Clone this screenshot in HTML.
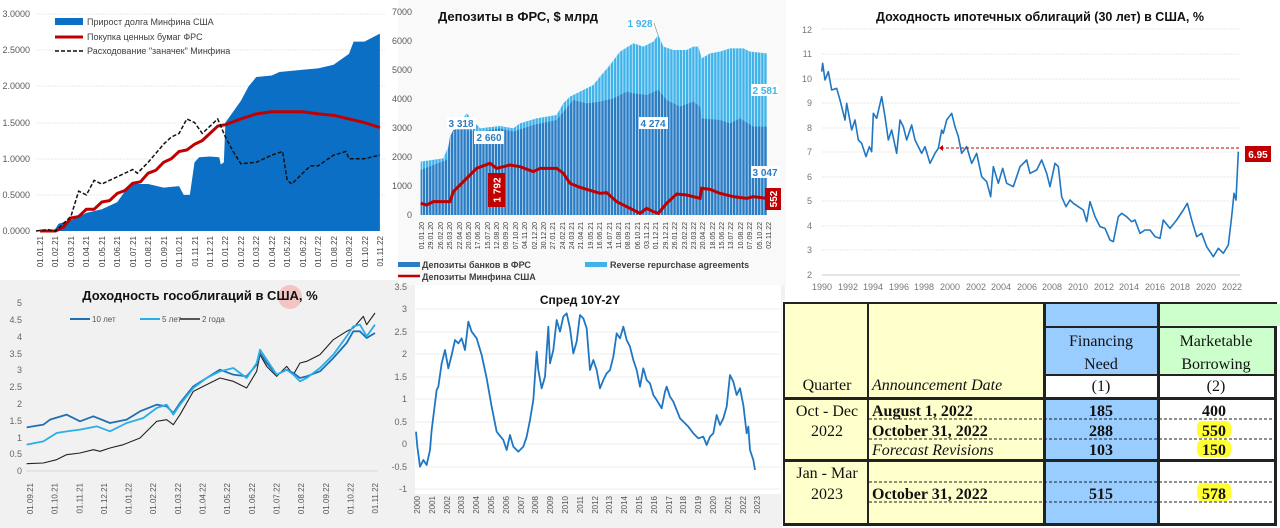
<!DOCTYPE html>
<html><head><meta charset="utf-8"><style>
html,body{margin:0;padding:0;background:#fff;}
svg{display:block;font-family:"Liberation Sans","DejaVu Sans",sans-serif;}
.t{font-family:"Liberation Serif",serif;}
</style></head><body>
<svg width="1280" height="528" viewBox="0 0 1280 528" xmlns="http://www.w3.org/2000/svg">
<defs>
<pattern id="st" patternUnits="userSpaceOnUse" width="9.4" height="10"><rect x="0" y="0" width="2.4" height="10" fill="#fff" opacity="0.75"/></pattern>
<clipPath id="totclip"><path d="M62,485 L130,475 L145,440 L150,410 L160,395 L200,340 L240,385 L300,378 L340,385 L360,370 L410,355 L470,345 L490,310 L510,290 L540,275 L580,255 L600,230 L630,195 L660,155 L700,130 L730,140 L760,125 L775,105 L790,140 L820,150 L860,150 L880,140 L895,140 L905,175 L930,160 L960,155 L990,145 L1030,145 L1050,155 L1100,160 L1100,645 L62,645 Z"/></clipPath>
</defs>
<rect width="1280" height="528" fill="#fff"/>
<rect x="0" y="280" width="392" height="248" fill="#f1f1f1"/>
<rect x="390" y="280" width="395" height="248" fill="#f1f1f1"/>
<rect x="415" y="284" width="366" height="210" fill="#fff"/>
<rect x="398" y="0" width="388" height="285" fill="#f9f9f9"/>

<!-- ===== Panel 1 ===== -->
<g font-size="9" fill="#595959" text-anchor="end">
<text x="30" y="17">3.0000</text><text x="30" y="53">2.5000</text><text x="30" y="89">2.0000</text><text x="30" y="126">1.5000</text><text x="30" y="162">1.0000</text><text x="30" y="198">0.5000</text><text x="30" y="234">0.0000</text>
</g>
<g stroke="#e4e4e4" stroke-width="0.8" stroke-dasharray="2,1">
<line x1="36" y1="14" x2="385" y2="14"/><line x1="36" y1="50" x2="385" y2="50"/><line x1="36" y1="86" x2="385" y2="86"/><line x1="36" y1="123" x2="385" y2="123"/><line x1="36" y1="159" x2="385" y2="159"/><line x1="36" y1="195" x2="385" y2="195"/>
</g>
<g transform="translate(40,231) scale(15.45,-72.3)">
<path fill="#0b6fc6" d="M0.9,0 L1.2,0.1 L2,0.15 L3,0.25 L4,0.3 L5,0.4 L5.5,0.55 L6,0.65 L7,0.65 L8,0.6 L9,0.62 L9.3,0.5 L9.7,0.5 L10,0.95 L10.3,1.02 L11,1.03 L11.6,1.02 L11.7,0.92 L11.9,0.95 L12,1.5 L12.5,1.65 L13,1.8 L13.5,2.0 L14,2.13 L15,2.15 L15.5,2.2 L17,2.23 L18,2.25 L19,2.3 L20,2.45 L20.3,2.62 L21,2.62 L22,2.73 L22,0 Z"/>
<polyline fill="none" stroke="#c00000" stroke-width="3" vector-effect="non-scaling-stroke" points="0,0 1,0 1.5,0.05 2,0.18 2.5,0.2 3,0.3 3.5,0.3 4,0.4 4.5,0.42 5,0.52 5.5,0.56 6,0.66 6.5,0.68 7,0.8 7.5,0.84 8,0.95 8.5,1.0 9,1.1 9.5,1.12 10,1.2 10.5,1.25 11,1.35 11.5,1.45 12,1.47 13,1.55 14,1.62 15,1.65 16,1.65 17,1.65 18,1.62 19,1.6 20,1.55 21,1.5 22,1.43"/>
</g>
<polyline fill="none" stroke="#111" stroke-width="1.5" stroke-dasharray="4,2" points="36,231 47.7,229.6 55.5,231 70.9,216.5 78.6,191.2 86.4,194.9 94.1,180.4 101.8,184 117.3,176.8 132.7,169.5 137.4,173.2 148.2,162.3 163.6,144.2 171.3,137 179.1,133.4 186.8,119 194.5,122.5 202.3,133.4 210,126.2 217.7,119 225.4,137 233.1,151.5 240.9,163.8 256.3,162.3 271.8,155.1 282.6,151.5 287.2,180.4 291.9,184 302.7,173.2 310.4,165.9 318.1,165.9 333.6,155.1 345.9,151.5 349,158.7 364.5,158.7 379.9,155.1"/>
<rect x="55" y="18" width="28" height="7" fill="#0b6fc6"/>
<line x1="55" y1="37" x2="83" y2="37" stroke="#c00000" stroke-width="3"/>
<line x1="55" y1="51" x2="83" y2="51" stroke="#111" stroke-width="1.5" stroke-dasharray="4,2"/>
<g font-size="9" fill="#404040"><text x="87" y="25">Прирост долга Минфина США</text><text x="87" y="40">Покупка ценных бумаг ФРС</text><text x="87" y="54">Расходование "заначек" Минфина</text></g>
<g font-size="8" fill="#404040" text-anchor="end">
<text transform="translate(43,236) rotate(-90)">01.01.21</text><text transform="translate(58,236) rotate(-90)">01.02.21</text><text transform="translate(74,236) rotate(-90)">01.03.21</text><text transform="translate(89,236) rotate(-90)">01.04.21</text><text transform="translate(105,236) rotate(-90)">01.05.21</text><text transform="translate(120,236) rotate(-90)">01.06.21</text><text transform="translate(136,236) rotate(-90)">01.07.21</text><text transform="translate(151,236) rotate(-90)">01.08.21</text><text transform="translate(167,236) rotate(-90)">01.09.21</text><text transform="translate(182,236) rotate(-90)">01.10.21</text><text transform="translate(198,236) rotate(-90)">01.11.21</text><text transform="translate(213,236) rotate(-90)">01.12.21</text><text transform="translate(228,236) rotate(-90)">01.01.22</text><text transform="translate(244,236) rotate(-90)">01.02.22</text><text transform="translate(259,236) rotate(-90)">01.03.22</text><text transform="translate(275,236) rotate(-90)">01.04.22</text><text transform="translate(290,236) rotate(-90)">01.05.22</text><text transform="translate(306,236) rotate(-90)">01.06.22</text><text transform="translate(321,236) rotate(-90)">01.07.22</text><text transform="translate(337,236) rotate(-90)">01.08.22</text><text transform="translate(352,236) rotate(-90)">01.09.22</text><text transform="translate(368,236) rotate(-90)">01.10.22</text><text transform="translate(383,236) rotate(-90)">01.11.22</text>
</g>

<!-- ===== Panel 2 ===== -->
<g font-size="9" fill="#595959" text-anchor="end">
<text x="412" y="15">7000</text><text x="412" y="44">6000</text><text x="412" y="73">5000</text><text x="412" y="102">4000</text><text x="412" y="131">3000</text><text x="412" y="160">2000</text><text x="412" y="189">1000</text><text x="412" y="218">0</text>
</g>
<g transform="translate(400,0) scale(0.33333)">
<path fill="#3fb3ea" d="M62,485 L130,475 L145,440 L150,410 L160,395 L200,340 L240,385 L300,378 L340,385 L360,370 L410,355 L470,345 L490,310 L510,290 L540,275 L580,255 L600,230 L630,195 L660,155 L700,130 L730,140 L760,125 L775,105 L790,140 L820,150 L860,150 L880,140 L895,140 L905,175 L930,160 L960,155 L990,145 L1030,145 L1050,155 L1100,160 L1100,645 L62,645 Z"/>
<path fill="#2a7cc4" d="M62,510 L140,480 L150,410 L160,390 L200,390 L240,395 L300,385 L340,395 L400,375 L470,360 L495,330 L520,300 L560,310 L600,305 L640,295 L680,275 L700,280 L740,285 L775,270 L800,300 L840,320 L880,305 L900,320 L905,355 L960,360 L990,370 L1020,355 L1060,380 L1100,380 L1100,645 L62,645 Z"/>
<rect x="62" y="90" width="1040" height="560" fill="url(#st)" clip-path="url(#totclip)"/>
<polyline fill="none" stroke="#c00000" stroke-width="3" vector-effect="non-scaling-stroke" points="62,610 80,615 100,605 150,605 160,575 190,545 230,505 270,490 290,505 330,495 360,500 400,515 420,505 470,505 490,520 510,550 540,562 600,580 620,578 650,605 690,625 720,640 740,625 760,635 775,640 800,610 830,582 860,585 900,595 905,565 930,568 960,580 1000,590 1040,595 1060,590 1100,595"/>
</g>
<text x="438" y="21" font-size="13" font-weight="bold" fill="#111">Депозиты в ФРС, $ млрд</text>
<g font-size="10" font-weight="bold" text-anchor="middle">
<rect x="626" y="18" width="28" height="11" fill="#fff"/><text x="640" y="27" fill="#3fb3ea">1 928</text>
<line x1="654" y1="23" x2="658" y2="35" stroke="#888" stroke-width="0.6"/>
<rect x="447" y="117" width="29" height="12" fill="#fff"/><text x="461" y="127" fill="#2a7cc4">3 318</text>
<rect x="474" y="131" width="30" height="13" fill="#fff"/><text x="489" y="141" fill="#2a7cc4">2 660</text>
<rect x="639" y="117" width="29" height="12" fill="#fff"/><text x="653" y="127" fill="#2a7cc4">4 274</text>
<rect x="751" y="84" width="28" height="12" fill="#fff"/><text x="765" y="94" fill="#3fb3ea">2 581</text>
<rect x="751" y="166" width="28" height="12" fill="#fff"/><text x="765" y="176" fill="#2a7cc4">3 047</text>
<rect x="488" y="173" width="17" height="34" fill="#c00000"/><text transform="translate(500.5,190) rotate(-90)" fill="#fff">1 792</text>
<rect x="765" y="188" width="16" height="22" fill="#c00000"/><text transform="translate(777,199) rotate(-90)" fill="#fff">552</text>
</g>
<g font-size="7" fill="#404040" text-anchor="end">
<text transform="translate(424,222) rotate(-90)">01.01.20</text><text transform="translate(433,222) rotate(-90)">29.01.20</text><text transform="translate(443,222) rotate(-90)">26.02.20</text><text transform="translate(452,222) rotate(-90)">25.03.20</text><text transform="translate(462,222) rotate(-90)">22.04.20</text><text transform="translate(471,222) rotate(-90)">20.05.20</text><text transform="translate(480,222) rotate(-90)">17.06.20</text><text transform="translate(490,222) rotate(-90)">15.07.20</text><text transform="translate(499,222) rotate(-90)">12.08.20</text><text transform="translate(508,222) rotate(-90)">09.09.20</text><text transform="translate(518,222) rotate(-90)">07.10.20</text><text transform="translate(527,222) rotate(-90)">04.11.20</text><text transform="translate(537,222) rotate(-90)">02.12.20</text><text transform="translate(546,222) rotate(-90)">30.12.20</text><text transform="translate(555,222) rotate(-90)">27.01.21</text><text transform="translate(565,222) rotate(-90)">24.02.21</text><text transform="translate(574,222) rotate(-90)">24.03.21</text><text transform="translate(583,222) rotate(-90)">21.04.21</text><text transform="translate(593,222) rotate(-90)">19.05.21</text><text transform="translate(602,222) rotate(-90)">16.06.21</text><text transform="translate(612,222) rotate(-90)">14.07.21</text><text transform="translate(621,222) rotate(-90)">11.08.21</text><text transform="translate(630,222) rotate(-90)">08.09.21</text><text transform="translate(640,222) rotate(-90)">06.10.21</text><text transform="translate(649,222) rotate(-90)">03.11.21</text><text transform="translate(658,222) rotate(-90)">01.12.21</text><text transform="translate(668,222) rotate(-90)">29.12.21</text><text transform="translate(677,222) rotate(-90)">26.01.22</text><text transform="translate(687,222) rotate(-90)">23.02.22</text><text transform="translate(696,222) rotate(-90)">23.03.22</text><text transform="translate(705,222) rotate(-90)">20.04.22</text><text transform="translate(715,222) rotate(-90)">18.05.22</text><text transform="translate(724,222) rotate(-90)">15.06.22</text><text transform="translate(733,222) rotate(-90)">13.07.22</text><text transform="translate(743,222) rotate(-90)">10.08.22</text><text transform="translate(752,222) rotate(-90)">07.09.22</text><text transform="translate(762,222) rotate(-90)">05.10.22</text><text transform="translate(771,222) rotate(-90)">02.11.22</text>
</g>
<rect x="398" y="262" width="22" height="5" fill="#2a7cc4"/>
<text x="422" y="268" font-size="9" font-weight="bold" fill="#404040">Депозиты банков в ФРС</text>
<rect x="585" y="262" width="22" height="5" fill="#3fb3ea"/>
<text x="610" y="268" font-size="9" font-weight="bold" fill="#404040">Reverse repurchase agreements</text>
<line x1="398" y1="276" x2="420" y2="276" stroke="#c00000" stroke-width="2.5"/>
<text x="422" y="280" font-size="9" font-weight="bold" fill="#404040">Депозиты Минфина США</text>

<!-- ===== Panel 3 ===== -->
<text x="1040" y="21" font-size="12.5" font-weight="bold" fill="#111" text-anchor="middle">Доходность ипотечных облигаций (30 лет) в США, %</text>
<g stroke="#e2e2e2" stroke-width="0.8" stroke-dasharray="2,1">
<line x1="822" y1="29" x2="1240" y2="29"/><line x1="822" y1="54" x2="1240" y2="54"/><line x1="822" y1="79" x2="1240" y2="79"/><line x1="822" y1="103" x2="1240" y2="103"/><line x1="822" y1="128" x2="1240" y2="128"/><line x1="822" y1="152" x2="1240" y2="152"/><line x1="822" y1="177" x2="1240" y2="177"/><line x1="822" y1="201" x2="1240" y2="201"/><line x1="822" y1="226" x2="1240" y2="226"/><line x1="822" y1="250" x2="1240" y2="250"/>
</g>
<line x1="822" y1="275" x2="1240" y2="275" stroke="#bbb" stroke-width="0.8"/>
<g font-size="9" fill="#777" text-anchor="end">
<text x="812" y="33">12</text><text x="812" y="57">11</text><text x="812" y="82">10</text><text x="812" y="106">9</text><text x="812" y="131">8</text><text x="812" y="155">7</text><text x="812" y="180">6</text><text x="812" y="204">5</text><text x="812" y="229">4</text><text x="812" y="253">3</text><text x="812" y="278">2</text>
</g>
<g font-size="9" fill="#777" text-anchor="middle">
<text x="822" y="290">1990</text><text x="848" y="290">1992</text><text x="873" y="290">1994</text><text x="899" y="290">1996</text><text x="924" y="290">1998</text><text x="950" y="290">2000</text><text x="976" y="290">2002</text><text x="1001" y="290">2004</text><text x="1027" y="290">2006</text><text x="1052" y="290">2008</text><text x="1078" y="290">2010</text><text x="1104" y="290">2012</text><text x="1129" y="290">2014</text><text x="1155" y="290">2016</text><text x="1180" y="290">2018</text><text x="1206" y="290">2020</text><text x="1232" y="290">2022</text>
</g>
<g transform="translate(780,0) scale(0.33333)">
<polyline fill="none" stroke="#1f77c4" stroke-width="1.6" vector-effect="non-scaling-stroke" stroke-linejoin="round" points="125,215 128,190 135,240 145,215 155,270 170,265 180,300 195,360 200,310 215,390 225,360 235,420 245,430 258,470 268,440 275,455 280,340 290,355 305,290 315,350 325,420 335,390 350,460 360,360 370,380 380,420 395,375 405,420 425,460 435,440 450,490 465,460 475,445 485,390 490,400 500,360 515,340 525,380 535,410 545,460 560,440 575,490 590,460 605,530 620,545 632,590 640,500 655,550 668,505 680,550 700,560 720,500 740,480 750,520 770,510 785,480 800,520 810,560 825,490 835,500 845,590 858,620 870,600 880,610 895,620 910,630 920,665 930,605 945,650 960,680 975,685 990,720 1000,725 1015,650 1025,640 1040,650 1055,665 1065,660 1080,700 1095,690 1110,690 1125,710 1140,715 1150,660 1170,685 1190,660 1210,630 1222,610 1235,660 1250,710 1265,700 1280,740 1300,770 1315,745 1330,760 1345,735 1355,650 1362,580 1368,600 1375,455"/>
</g>
<line x1="941" y1="148" x2="1240" y2="148" stroke="#c00000" stroke-width="1" stroke-dasharray="3,2"/>
<path d="M939,148 l4,-3 v6 z" fill="#c00000"/>
<rect x="1245" y="146" width="26" height="16" fill="#c00000"/>
<text x="1258" y="158" font-size="10" font-weight="bold" fill="#fff" text-anchor="middle">6.95</text>

<!-- ===== Panel 4 ===== -->
<circle cx="290" cy="297" r="12" fill="#f2c4c4"/>
<text x="200" y="300" font-size="13" font-weight="bold" fill="#111" text-anchor="middle">Доходность гособлигаций в США, %</text>
<g font-size="9" fill="#666" text-anchor="end">
<text x="22" y="306">5</text><text x="22" y="323">4.5</text><text x="22" y="340">4</text><text x="22" y="357">3.5</text><text x="22" y="373">3</text><text x="22" y="390">2.5</text><text x="22" y="407">2</text><text x="22" y="424">1.5</text><text x="22" y="441">1</text><text x="22" y="457">0.5</text><text x="22" y="474">0</text>
</g>
<line x1="26" y1="471" x2="378" y2="471" stroke="#ccc" stroke-width="0.8"/>
<line x1="70" y1="319" x2="90" y2="319" stroke="#1f6fb5" stroke-width="2"/><text x="92" y="322" font-size="8" fill="#555">10 лет</text>
<line x1="140" y1="319" x2="160" y2="319" stroke="#29aee6" stroke-width="2"/><text x="162" y="322" font-size="8" fill="#555">5 лет</text>
<line x1="180" y1="319" x2="200" y2="319" stroke="#222" stroke-width="1.5"/><text x="202" y="322" font-size="8" fill="#555">2 года</text>
<g transform="translate(0,278) scale(0.33333)" fill="none" stroke-linejoin="round">
<polyline stroke="#222" stroke-width="1.1" vector-effect="non-scaling-stroke" points="80,557 130,555 170,545 200,530 240,525 280,515 300,520 330,510 370,500 420,480 470,430 500,425 520,440 540,410 580,340 620,320 660,300 700,310 740,330 770,280 780,230 800,265 830,295 860,265 880,290 900,255 920,250 960,230 1000,185 1040,160 1060,150 1090,115 1100,140 1125,105"/>
<polyline stroke="#1f6fb5" stroke-width="1.8" vector-effect="non-scaling-stroke" points="80,448 130,440 150,425 200,410 240,430 280,415 330,435 380,425 420,400 470,380 500,385 520,405 540,375 580,325 620,300 660,275 700,290 740,295 770,260 780,225 800,255 830,290 860,275 880,285 900,300 920,295 960,280 1000,240 1040,195 1060,160 1080,160 1100,180 1125,165"/>
<polyline stroke="#29aee6" stroke-width="1.8" vector-effect="non-scaling-stroke" points="80,500 130,490 170,465 200,460 240,455 290,445 330,460 380,435 430,420 470,390 500,380 520,410 540,380 580,330 620,300 660,280 700,270 740,300 770,255 780,215 800,245 830,290 860,275 880,290 900,310 920,300 960,270 1000,230 1040,175 1060,145 1080,140 1100,175 1125,140"/>
</g>
<g font-size="8" fill="#555" text-anchor="end">
<text transform="translate(33,483) rotate(-90)">01.09.21</text><text transform="translate(57.6,483) rotate(-90)">01.10.21</text><text transform="translate(82.3,483) rotate(-90)">01.11.21</text><text transform="translate(107,483) rotate(-90)">01.12.21</text><text transform="translate(131.6,483) rotate(-90)">01.01.22</text><text transform="translate(156,483) rotate(-90)">01.02.22</text><text transform="translate(181,483) rotate(-90)">01.03.22</text><text transform="translate(205.5,483) rotate(-90)">01.04.22</text><text transform="translate(230,483) rotate(-90)">01.05.22</text><text transform="translate(255,483) rotate(-90)">01.06.22</text><text transform="translate(279.5,483) rotate(-90)">01.07.22</text><text transform="translate(304,483) rotate(-90)">01.08.22</text><text transform="translate(329,483) rotate(-90)">01.09.22</text><text transform="translate(353.5,483) rotate(-90)">01.10.22</text><text transform="translate(378,483) rotate(-90)">01.11.22</text>
</g>

<!-- ===== Panel 5 ===== -->
<g stroke="#e6e6e6" stroke-width="0.8">
<line x1="415" y1="309" x2="780" y2="309"/><line x1="415" y1="332" x2="780" y2="332"/><line x1="415" y1="354" x2="780" y2="354"/><line x1="415" y1="377" x2="780" y2="377"/><line x1="415" y1="399" x2="780" y2="399"/><line x1="415" y1="422" x2="780" y2="422"/><line x1="415" y1="444" x2="780" y2="444"/><line x1="415" y1="467" x2="780" y2="467"/><line x1="415" y1="489" x2="780" y2="489"/>
</g>
<g font-size="9" fill="#666" text-anchor="end">
<text x="407" y="290">3.5</text><text x="407" y="312">3</text><text x="407" y="335">2.5</text><text x="407" y="357">2</text><text x="407" y="380">1.5</text><text x="407" y="402">1</text><text x="407" y="425">0.5</text><text x="407" y="447">0</text><text x="407" y="470">-0.5</text><text x="407" y="492">-1</text>
</g>
<text x="580" y="304" font-size="12" font-weight="bold" fill="#111" text-anchor="middle">Спред 10Y-2Y</text>
<g transform="translate(390,280) scale(0.33333)">
<polyline fill="none" stroke="#1f77c4" stroke-width="1.8" vector-effect="non-scaling-stroke" stroke-linejoin="round" points="78,455 82,500 90,560 100,540 110,555 120,510 125,450 130,410 140,330 145,320 155,250 165,210 175,265 185,225 195,180 205,190 215,175 225,210 235,125 245,155 260,175 275,225 290,295 305,380 320,455 340,480 350,510 360,465 370,500 385,515 400,500 410,470 420,420 430,360 440,215 445,270 455,325 465,290 475,140 480,250 490,210 500,120 510,155 520,110 530,100 540,145 550,220 560,185 570,105 580,115 590,145 600,270 610,240 620,270 630,325 640,300 650,280 660,270 670,230 680,160 690,175 700,140 710,180 720,200 730,240 740,270 750,320 760,265 770,300 780,310 790,345 800,360 815,385 825,335 830,320 840,350 850,365 860,390 870,415 880,425 895,440 910,460 925,475 940,470 950,495 960,470 970,460 980,405 990,435 1000,415 1010,380 1020,285 1030,305 1040,345 1050,325 1060,375 1070,460 1075,440 1080,510 1090,540 1095,570"/>
</g>
<g font-size="8" fill="#555" text-anchor="end">
<text transform="translate(420,496) rotate(-90)">2000</text><text transform="translate(435,496) rotate(-90)">2001</text><text transform="translate(450,496) rotate(-90)">2002</text><text transform="translate(464,496) rotate(-90)">2003</text><text transform="translate(479,496) rotate(-90)">2004</text><text transform="translate(494,496) rotate(-90)">2005</text><text transform="translate(509,496) rotate(-90)">2006</text><text transform="translate(524,496) rotate(-90)">2007</text><text transform="translate(538,496) rotate(-90)">2008</text><text transform="translate(553,496) rotate(-90)">2009</text><text transform="translate(568,496) rotate(-90)">2010</text><text transform="translate(583,496) rotate(-90)">2011</text><text transform="translate(598,496) rotate(-90)">2012</text><text transform="translate(612,496) rotate(-90)">2013</text><text transform="translate(627,496) rotate(-90)">2014</text><text transform="translate(642,496) rotate(-90)">2015</text><text transform="translate(657,496) rotate(-90)">2016</text><text transform="translate(672,496) rotate(-90)">2017</text><text transform="translate(686,496) rotate(-90)">2018</text><text transform="translate(701,496) rotate(-90)">2019</text><text transform="translate(716,496) rotate(-90)">2020</text><text transform="translate(731,496) rotate(-90)">2021</text><text transform="translate(746,496) rotate(-90)">2022</text><text transform="translate(760,496) rotate(-90)">2023</text>
</g>

<!-- ===== Panel 6 table ===== -->
<rect x="782" y="300" width="498" height="228" fill="#fff"/>
<rect x="783" y="302" width="494" height="224" fill="#222"/>
<rect x="785" y="304" width="82" height="93" fill="#ffffcc"/>
<rect x="869" y="304" width="174" height="93" fill="#ffffcc"/>
<rect x="1046" y="304" width="111" height="22" fill="#99ccff"/>
<rect x="1046" y="328" width="111" height="46" fill="#99ccff"/>
<rect x="1046" y="376" width="111" height="21" fill="#fff"/>
<rect x="1160" y="304" width="120" height="22" fill="#ccffcc"/>
<rect x="1160" y="328" width="114" height="46" fill="#ccffcc"/>
<rect x="1160" y="376" width="114" height="21" fill="#fff"/>
<rect x="785" y="400" width="82" height="59" fill="#ffffcc"/>
<rect x="869" y="400" width="174" height="59" fill="#ffffcc"/>
<rect x="1046" y="400" width="111" height="59" fill="#99ccff"/>
<rect x="1160" y="400" width="114" height="59" fill="#fff"/>
<rect x="785" y="462" width="82" height="61" fill="#ffffcc"/>
<rect x="869" y="462" width="174" height="61" fill="#ffffcc"/>
<rect x="1046" y="462" width="111" height="61" fill="#99ccff"/>
<rect x="1160" y="462" width="114" height="61" fill="#fff"/>
<g stroke="#222" stroke-width="1" stroke-dasharray="3,2">
<line x1="869" y1="419" x2="1274" y2="419"/><line x1="869" y1="439" x2="1274" y2="439"/><line x1="869" y1="482" x2="1274" y2="482"/><line x1="869" y1="502" x2="1274" y2="502"/>
</g>
<g fill="#ffff33">
<rect x="1197" y="421" width="34" height="17" rx="5"/><rect x="1197" y="440" width="34" height="17" rx="5"/><rect x="1197" y="483" width="34" height="18" rx="5"/>
</g>
<g class="t" font-size="16" fill="#111">
<text x="827" y="390" text-anchor="middle">Quarter</text>
<text x="872" y="390" font-style="italic">Announcement Date</text>
<text x="1101" y="346" text-anchor="middle">Financing</text>
<text x="1101" y="369" text-anchor="middle">Need</text>
<text x="1101" y="391" text-anchor="middle">(1)</text>
<text x="1216" y="346" text-anchor="middle">Marketable</text>
<text x="1216" y="369" text-anchor="middle">Borrowing</text>
<text x="1216" y="391" text-anchor="middle">(2)</text>
<text x="827" y="416" text-anchor="middle">Oct - Dec</text>
<text x="827" y="436" text-anchor="middle">2022</text>
<text x="827" y="478" text-anchor="middle">Jan - Mar</text>
<text x="827" y="499" text-anchor="middle">2023</text>
<text x="872" y="455" font-style="italic">Forecast Revisions</text>
</g>
<g class="t" font-size="16" font-weight="bold" fill="#111">
<text x="872" y="416">August 1, 2022</text>
<text x="872" y="436">October 31, 2022</text>
<text x="872" y="499">October 31, 2022</text>
<g text-anchor="middle">
<text x="1101" y="416">185</text><text x="1101" y="436">288</text><text x="1101" y="455">103</text><text x="1101" y="499">515</text>
<text x="1214" y="416">400</text><text x="1214" y="436">550</text><text x="1214" y="455">150</text><text x="1214" y="499">578</text>
</g>
</g>
</svg>
</body></html>
